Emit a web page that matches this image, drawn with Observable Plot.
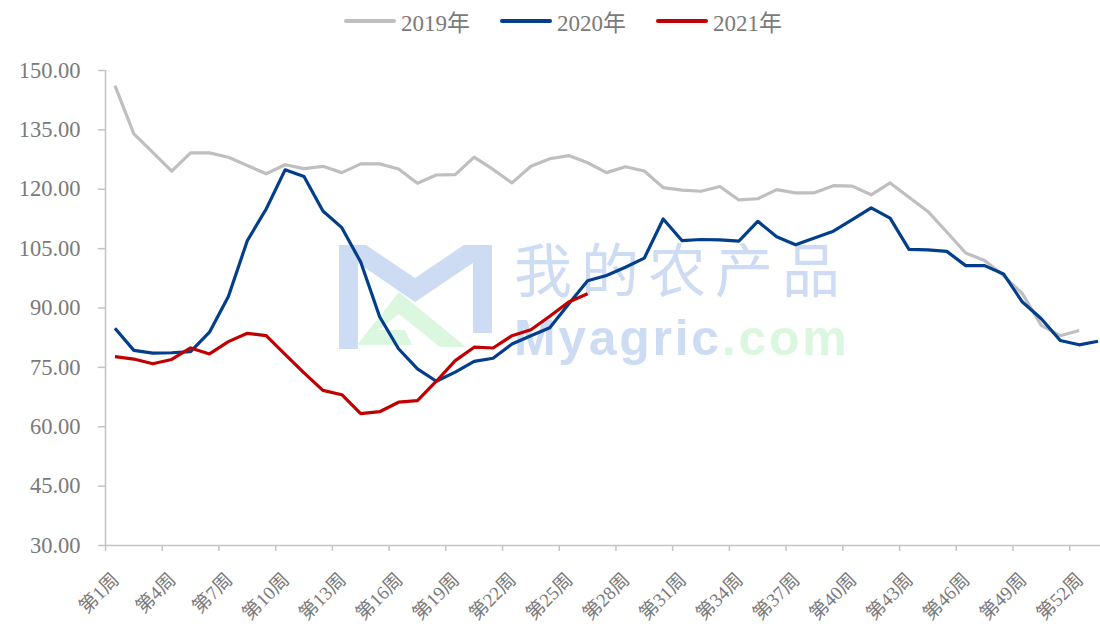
<!DOCTYPE html>
<html>
<head>
<meta charset="utf-8">
<script src="https://cdn.jsdelivr.net/npm/d3@7"></script>
<script src="https://cdn.jsdelivr.net/npm/@observablehq/plot@0.6"></script>
<style>
  html, body { margin: 0; padding: 0; background: #fff; }
  #wrap { position: relative; width: 1100px; height: 626px; overflow: hidden; font-family: "Liberation Serif", "Noto Sans CJK SC", serif; }
  #legend { position: absolute; left: 0; top: 0; width: 1100px; height: 42px; display: flex; justify-content: center; align-items: center; gap: 30px; color: #7a7a7a; font-size: 23px; padding-left: 26px; box-sizing: border-box; }
  .item { display: flex; align-items: center; }
  .swatch { width: 52px; height: 4px; border-radius: 2px; margin-right: 5px; }
  #chart { position: absolute; left: 0; top: 42px; z-index: 2; }
  #chart svg { background: transparent !important; overflow: visible; }
  #wm { position: absolute; left: 0; top: 0; width: 1100px; height: 626px; z-index: 1; pointer-events: none; }
</style>
</head>
<body>
<div id="wrap">
  <div id="legend"></div>
  <svg id="wm" width="1100" height="626">
    <path d="M339,245 L366,245 L415,278 L464,245 L492,245 L492,333 L473,333 L473,263 L415,302 L358,263 L358,349 L339,349 Z" fill="#cddcf3"/>
    <path d="M357,345 L399,292 L466,347 L440,347 L399,314 L378,330 L405,330 L412,345 Z" fill="#dbf7df"/>
    <text x="514" y="292" font-family="Noto Sans CJK SC" font-size="58" fill="#cddcf3" letter-spacing="9">我的农产品</text>
    <text x="514" y="354.5" font-family="Liberation Sans, Arial" font-weight="bold" font-size="50" fill="#cddcf3" letter-spacing="2.7">Myagric<tspan fill="#dbf7df">.com</tspan></text>
  </svg>
  <div id="chart"></div>
</div>
<script>
const years = ["2019年", "2020年", "2021年"];
const colors = ["#bfbfbf", "#023e8a", "#c00000"];

const v2019 = [146.2, 134.0, 129.3, 124.6, 129.2, 129.2, 128.1, 126.0, 123.9, 126.2,
               125.2, 125.8, 124.2, 126.4, 126.4, 125.1, 121.5, 123.6, 123.7, 128.1,
               125.0, 121.6, 125.8, 127.7, 128.5, 126.7, 124.2, 125.7, 124.6, 120.4,
               119.8, 119.5, 120.7, 117.3, 117.6, 119.9, 119.1, 119.1, 120.9, 120.8,
               118.6, 121.6, 118.0, 114.4, 109.2, 103.9, 102.0, 98.2, 93.6, 85.6,
               83.0, 84.3];
const v2020 = [84.9, 79.3, 78.6, 78.7, 79.0, 83.9, 92.9, 107.0, 115.0, 124.9,
               123.2, 114.5, 110.3, 101.6, 87.8, 79.7, 74.6, 71.5, 73.8, 76.5,
               77.3, 80.9, 83.0, 85.0, 91.0, 96.9, 98.2, 100.3, 102.6, 112.5,
               107.0, 107.3, 107.2, 106.9, 111.9, 108.0, 106.0, 107.7, 109.4, 112.3,
               115.3, 112.7, 104.8, 104.7, 104.3, 100.7, 100.7, 98.6, 91.5, 87.3,
               81.8, 80.7, 81.6];
const v2021 = [77.7, 77.1, 75.9, 77.0, 79.9, 78.4, 81.5, 83.6, 83.0, 78.3,
               73.6, 69.2, 68.1, 63.3, 63.8, 66.2, 66.6, 71.5, 76.7, 80.1,
               79.9, 83.0, 84.5, 87.9, 91.5, 93.6];

const weekLabels = ["第1周","第4周","第7周","第10周","第13周","第16周","第19周","第22周","第25周","第28周","第31周","第34周","第37周","第40周","第43周","第46周","第49周","第52周"];
const labelWeeks = [1,4,7,10,13,16,19,22,25,28,31,34,37,40,43,46,49,52];
const yTicks = [30, 45, 60, 75, 90, 105, 120, 135, 150];

const series = [v2019, v2020, v2021];
const data = series.flatMap((vals, s) => vals.map((v, i) => ({week: i + 1, value: v, year: years[s]})));
const boundaries = labelWeeks.map(w => w - 0.5);

// legend
const leg = document.getElementById("legend");
years.forEach((y, i) => {
  const it = document.createElement("div");
  it.className = "item";
  it.innerHTML = `<span class="swatch" style="background:${colors[i]}"></span><span>${y}</span>`;
  leg.appendChild(it);
});

const axisColor = "#c4c4c4";
const textColor = "#7a7a7a";

const chart = Plot.plot({
  width: 1100,
  height: 584,
  marginLeft: 105,
  marginRight: 0,
  marginTop: 28,
  marginBottom: 81,
  style: {fontFamily: "'Liberation Serif', 'Noto Sans CJK SC', serif", color: textColor, background: "transparent"},
  x: {domain: [0.5, 53.13], axis: null},
  y: {domain: [30, 150], axis: null},
  color: {domain: years, range: colors},
  marks: [
    Plot.ruleX([0.5], {y1: 30, y2: 150, stroke: axisColor, strokeWidth: 1.5}),
    Plot.ruleY([30], {stroke: axisColor, strokeWidth: 1.5}),
    Plot.axisY({ticks: yTicks, tickSize: 7, tickPadding: 18, stroke: axisColor, strokeWidth: 1.5,
      tickFormat: d => d.toFixed(2), fontSize: 22.5, fill: textColor, label: null}),
    Plot.axisX({ticks: boundaries, tickSize: 6, stroke: axisColor, strokeWidth: 1.5, tickFormat: () => "", label: null}),
    Plot.axisX({ticks: labelWeeks, tickSize: 0, tickFormat: (d, i) => weekLabels[i], tickRotate: -45,
      textAnchor: "end", fontSize: 19, fill: textColor, tickPadding: 4, dy: 27, dx: 1, label: null}),
    Plot.line(data, {x: "week", y: "value", stroke: "year", strokeWidth: 3.2, strokeLinejoin: "round", strokeLinecap: "butt"})
  ]
});
document.getElementById("chart").appendChild(chart);
</script>
</body>
</html>
